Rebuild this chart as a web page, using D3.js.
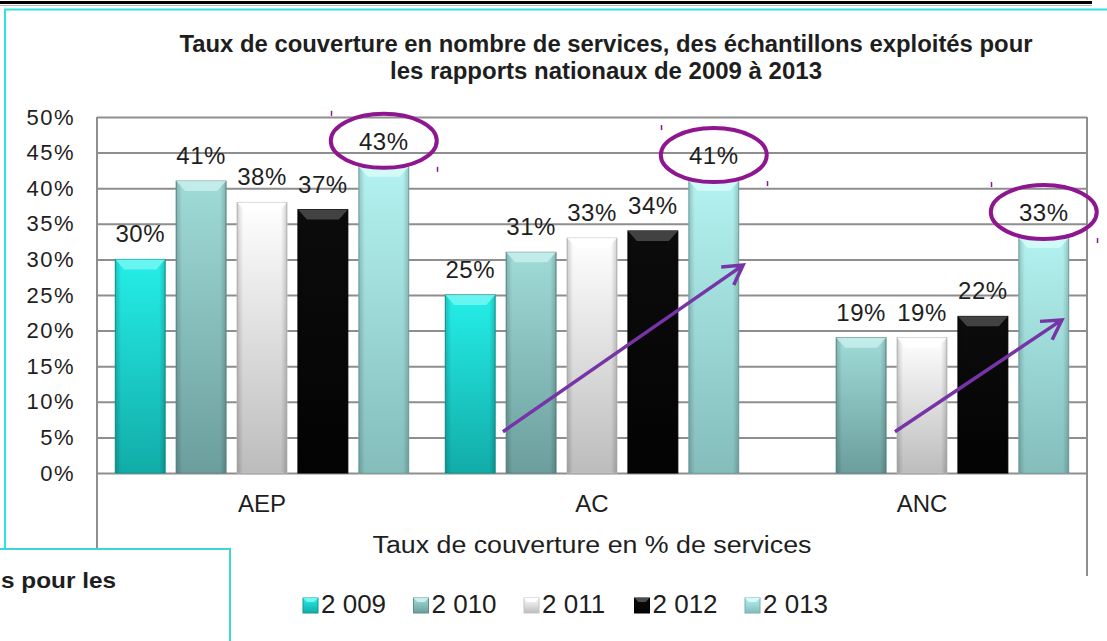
<!DOCTYPE html>
<html>
<head>
<meta charset="utf-8">
<script src="https://cdn.jsdelivr.net/npm/d3@7"></script>
<style>
  body { margin: 0; background: #fff; }
  text { font-family: "Liberation Sans", Arial, sans-serif; fill: #1e1e1e; }
</style>
</head>
<body>
<div id="chart"></div>
<script>
// data
var categories = ["AEP", "AC", "ANC"];
var years = ["2 009", "2 010", "2 011", "2 012", "2 013"];
var v2009 = [30, 25, null];
var v2010 = [41, 31, 19];
var v2011 = [38, 33, 19];
var v2012 = [37, 34, 22];
var v2013 = [43, 41, 33];
var yTicks = [0, 5, 10, 15, 20, 25, 30, 35, 40, 45, 50];
var titleLines = ["Taux de couverture en nombre de services, des échantillons exploités pour",
                  "les rapports nationaux de 2009 à 2013"];
var xTitle = "Taux de couverture en % de services";
// annotations : ellipses round the 2013 labels, arrows (band fraction, value)
var circled = ["AEP", "AC", "ANC"];
var arrows = [
  { cat: "AC", x0: 0.23, v0: 5.8, x1: 0.958, v1: 29.2 },
  { cat: "ANC", x0: 0.418, v0: 5.8, x1: 0.924, v1: 21.5 }
];

var series = [v2009, v2010, v2011, v2012, v2013];
var colors = [
  { top: "#25eee8", bottom: "#12aca8", bevel: "#74f7f3", stroke: "#0f9a96" },
  { top: "#a0dbd8", bottom: "#6b9e9c", bevel: "#c8efed", stroke: "#5f8f8d" },
  { top: "#ffffff", bottom: "#bcbcbc", bevel: "#ffffff", stroke: "#c4c4c4" },
  { top: "#0c0c0c", bottom: "#030303", bevel: "#4c4c4c", stroke: "#000000" },
  { top: "#b3f2f0", bottom: "#84bdbb", bevel: "#d6fbfa", stroke: "#77aeac" }
];

var w = 1107, h = 641;
var plot = { left: 97, right: 1087, top: 117, bottom: 473 };

var svg = d3.select("#chart").append("svg")
  .attr("width", w)
  .attr("height", h);

var defs = svg.append("defs");
colors.forEach(function(c, i) {
  var g = defs.append("linearGradient").attr("id", "grad" + i)
    .attr("x1", 0).attr("y1", 0).attr("x2", 0).attr("y2", 1);
  g.append("stop").attr("offset", "0%").attr("stop-color", c.top);
  g.append("stop").attr("offset", "100%").attr("stop-color", c.bottom);
});
var side = defs.append("linearGradient").attr("id", "side")
  .attr("x1", 0).attr("y1", 0).attr("x2", 1).attr("y2", 0);
side.append("stop").attr("offset", "0%").attr("stop-color", "#000").attr("stop-opacity", 0.18);
side.append("stop").attr("offset", "12%").attr("stop-color", "#000").attr("stop-opacity", 0);
side.append("stop").attr("offset", "88%").attr("stop-color", "#000").attr("stop-opacity", 0);
side.append("stop").attr("offset", "100%").attr("stop-color", "#000").attr("stop-opacity", 0.18);

/* ------------------------------- frame ------------------------------- */
svg.append("line").attr("x1", 0).attr("x2", 1092).attr("y1", 2.5).attr("y2", 2.5)
  .attr("stroke", "#000").attr("stroke-width", 3);
svg.append("line").attr("x1", 0).attr("x2", 1092).attr("y1", 5.5).attr("y2", 5.5)
  .attr("stroke", "#b0b0b0").attr("stroke-width", 1);
svg.append("path").attr("d", "M5,549 V9.5 H1107")
  .attr("fill", "none").attr("stroke", "#30e2e2").attr("stroke-width", 2);

// Title
svg.append("g").selectAll("text")
  .data(titleLines)
  .enter().append("text")
  .attr("x", 606)
  .attr("y", function(d, i) { return 52 + i * 27; })
  .attr("text-anchor", "middle")
  .attr("font-size", 23)
  .attr("font-weight", "bold")
  .attr("textLength", function(d, i) { return i == 0 ? 853 : 432; })
  .attr("lengthAdjust", "spacingAndGlyphs")
  .text(function(d) { return d; });

/* ------------------------------- scales ------------------------------- */
var xScale = d3.scaleBand().domain(categories).range([plot.left, plot.right]);
var xSub = d3.scaleBand().domain(years).range([0, xScale.bandwidth()])
  .paddingInner(0.18).paddingOuter(0.3);
var yScale = d3.scaleLinear().domain([0, 50]).range([plot.bottom, plot.top]);

// gridlines + y labels
var yAxis = d3.axisLeft(yScale)
  .tickValues(yTicks)
  .tickFormat(function(d) { return d + "%"; })
  .tickSizeInner(-(plot.right - plot.left))
  .tickSizeOuter(0)
  .tickPadding(22);
var gy = svg.append("g").attr("transform", "translate(" + plot.left + ",0)").call(yAxis);
gy.select(".domain").remove();
gy.selectAll(".tick line").attr("stroke", "#8e8e8e").attr("stroke-width", 2);
gy.selectAll(".tick text")
  .attr("font-size", 22)
  .attr("letter-spacing", 1.5)
  .attr("fill", "#1e1e1e")
  .style("font-family", "'Liberation Sans', Arial, sans-serif");

// side walls
svg.append("line").attr("x1", plot.left).attr("x2", plot.left).attr("y1", plot.top).attr("y2", 576)
  .attr("stroke", "#8e8e8e").attr("stroke-width", 2);
svg.append("line").attr("x1", plot.right).attr("x2", plot.right).attr("y1", plot.top).attr("y2", 576)
  .attr("stroke", "#8e8e8e").attr("stroke-width", 2);

// category labels
var xAxis = d3.axisBottom(xScale).tickSize(0).tickPadding(22);
var gx = svg.append("g").attr("transform", "translate(0," + plot.bottom + ")").call(xAxis);
gx.select(".domain").remove();
gx.selectAll(".tick text")
  .attr("font-size", 24)
  .attr("fill", "#1e1e1e")
  .style("font-family", "'Liberation Sans', Arial, sans-serif");

svg.append("text")
  .attr("x", (plot.left + plot.right) / 2)
  .attr("y", 553)
  .attr("text-anchor", "middle")
  .attr("font-size", 23)
  .attr("textLength", 439)
  .attr("lengthAdjust", "spacingAndGlyphs")
  .text(xTitle);

/* ------------------------------- bars ------------------------------- */
var bars = [];
categories.forEach(function(cat, ci) {
  series.forEach(function(s, si) {
    if (s[ci] != null) bars.push({ cat: cat, year: years[si], si: si, value: s[ci] });
  });
});

var bw = xSub.bandwidth();
var bar = svg.append("g").selectAll("g")
  .data(bars)
  .enter().append("g")
  .attr("transform", function(d) { return "translate(" + (xScale(d.cat) + xSub(d.year)) + ",0)"; });

bar.append("rect")
  .attr("y", function(d) { return yScale(d.value); })
  .attr("width", bw)
  .attr("height", function(d) { return plot.bottom - yScale(d.value); })
  .attr("fill", function(d) { return "url(#grad" + d.si + ")"; })
  .attr("stroke", function(d) { return colors[d.si].stroke; })
  .attr("stroke-width", 1);
bar.append("rect")
  .attr("y", function(d) { return yScale(d.value); })
  .attr("width", bw)
  .attr("height", function(d) { return plot.bottom - yScale(d.value); })
  .attr("fill", "url(#side)");
bar.append("path")
  .attr("d", function(d) {
    var t = yScale(d.value);
    return "M0," + t + "H" + bw + "L" + (bw - 9) + "," + (t + 10) + "H9Z";
  })
  .attr("fill", function(d) { return colors[d.si].bevel; })
  .attr("opacity", 0.85);

bar.append("text")
  .attr("x", bw / 2)
  .attr("y", function(d) { return yScale(d.value) - 17; })
  .attr("text-anchor", "middle")
  .attr("font-size", 24)
  .attr("letter-spacing", 0.5)
  .text(function(d) { return d.value + "%"; });

/* ------------------------------- annotations ------------------------------- */
var purple = "#8e168e";
circled.forEach(function(cat) {
  var ci = categories.indexOf(cat);
  var cx = xScale(cat) + xSub(years[4]) + bw / 2;
  var cy = yScale(v2013[ci]) - 26;
  svg.append("ellipse")
    .attr("cx", cx).attr("cy", cy).attr("rx", 53).attr("ry", 27)
    .attr("fill", "none").attr("stroke", purple).attr("stroke-width", 4);
  svg.append("rect").attr("x", cx - 53).attr("y", cy - 30).attr("width", 1.5).attr("height", 5).attr("fill", purple);
  svg.append("rect").attr("x", cx + 53).attr("y", cy + 26).attr("width", 1.5).attr("height", 5).attr("fill", purple);
});

var violet = "#7634a6";
arrows.forEach(function(a) {
  var x0 = xScale(a.cat) + a.x0 * xScale.bandwidth(), y0 = yScale(a.v0);
  var x1 = xScale(a.cat) + a.x1 * xScale.bandwidth(), y1 = yScale(a.v1);
  var ang = Math.atan2(y0 - y1, x0 - x1);
  var len = 22, spread = Math.PI / 6;
  var p = "M" + x0 + "," + y0 + "L" + x1 + "," + y1 +
    "M" + (x1 + len * Math.cos(ang - spread)) + "," + (y1 + len * Math.sin(ang - spread)) +
    "L" + x1 + "," + y1 +
    "L" + (x1 + len * Math.cos(ang + spread)) + "," + (y1 + len * Math.sin(ang + spread));
  svg.append("path").attr("d", p)
    .attr("fill", "none").attr("stroke", violet).attr("stroke-width", 3.5)
    .attr("stroke-linejoin", "miter");
});

/* ------------------------------- legend ------------------------------- */
var legend = svg.append("g").selectAll("g")
  .data(years)
  .enter().append("g")
  .attr("transform", function(d, i) { return "translate(" + (303 + i * 110.5) + ",598)"; });
legend.append("rect")
  .attr("width", 15).attr("height", 15)
  .attr("fill", function(d, i) { return "url(#grad" + i + ")"; })
  .attr("stroke", function(d, i) { return colors[i].stroke; });
legend.append("path")
  .attr("d", "M0,0H15L11,4H4Z")
  .attr("fill", function(d, i) { return colors[i].bevel; });
legend.append("text")
  .attr("x", 18)
  .attr("y", 15)
  .attr("font-size", 26)
  .text(function(d) { return d; });

/* ------------------------------- overlapping box ------------------------------- */
svg.append("rect")
  .attr("x", -2).attr("y", 549).attr("width", 232).attr("height", 100)
  .attr("fill", "#fff").attr("stroke", "#3cd6d6").attr("stroke-width", 2);
svg.append("text")
  .attr("x", 1).attr("y", 588)
  .attr("font-size", 22)
  .attr("font-weight", "bold")
  .attr("textLength", 115)
  .attr("lengthAdjust", "spacingAndGlyphs")
  .text("s pour les");
</script>
</body>
</html>
